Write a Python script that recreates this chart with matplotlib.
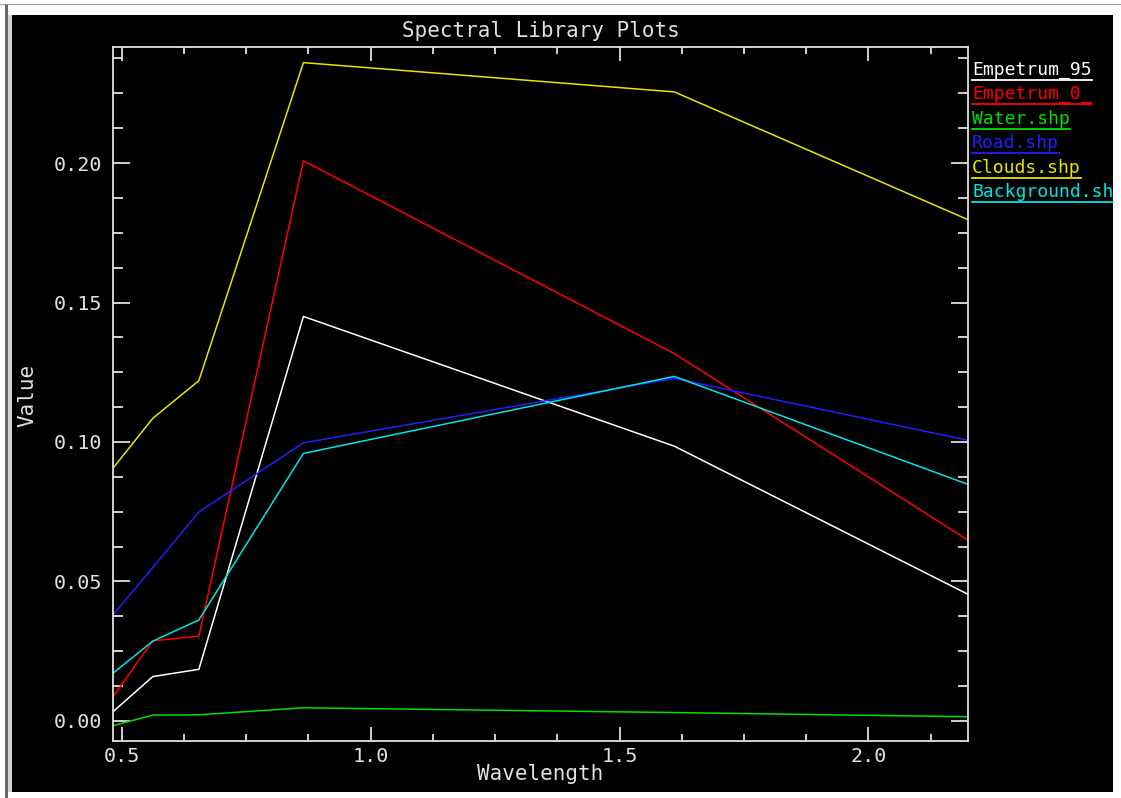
import matplotlib
matplotlib.use("Agg")
import matplotlib.pyplot as plt
from matplotlib.patches import Rectangle
from matplotlib.lines import Line2D
from matplotlib.ticker import MultipleLocator, FormatStrFormatter

plt.rcParams["font.family"] = "DejaVu Sans Mono"

# Landsat 8 OLI band centres (micrometres)
wavelength = [0.4825, 0.5625, 0.655, 0.865, 1.61, 2.2]

names = ["Empetrum_95", "Empetrum_0_", "Water.shp", "Road.shp", "Clouds.shp", "Background.sh"]
colors = ["#ffffff", "#ff0000", "#00e000", "#2020ff", "#e6e600", "#00e6e6"]

empetrum_95 = [0.0033, 0.0159, 0.0185, 0.1450, 0.0985, 0.0454]
empetrum_0 = [0.0087, 0.0287, 0.0304, 0.2008, 0.1317, 0.0648]
water = [-0.0017, 0.0021, 0.0022, 0.0047, 0.0030, 0.0015]
road = [0.0380, 0.0550, 0.0749, 0.0997, 0.1228, 0.1006]
clouds = [0.0906, 0.1085, 0.1220, 0.2360, 0.2255, 0.1797]
background = [0.0171, 0.0286, 0.0362, 0.0959, 0.1235, 0.0848]

series = [empetrum_95, empetrum_0, water, road, clouds, background]

W, H = 1121, 798
fig = plt.figure(figsize=(W / 100, H / 100), dpi=100, facecolor="white")

# window frame of the screenshot
frame = [
    ((0, 1 - 5 / H), 1, 1.5 / H, "#9a9a9a"),
    ((5 / W, 0), 3 / W, 1 - 5 / H, "#6a6a6a"),
    ((8 / W, 6 / H), 4 / W, 1 - 21 / H, "#d4d4cc"),
    ((12 / W, 6 / H), 1101 / W, 777 / H, "black"),
]
for xy, w, h, c in frame:
    fig.patches.append(Rectangle(xy, w, h, transform=fig.transFigure,
                                 facecolor=c, edgecolor="none", zorder=-10))

fg = "#e0e0e0"
fs = 14.5
ax = fig.add_axes([113 / W, 1 - 741 / H, 855 / W, 694 / H])
ax.set_facecolor("black")

for vals, c in zip(series, colors):
    ax.plot(wavelength, vals, color=c, lw=1.1)

ax.set_xlim(0.4825, 2.2)
ax.set_ylim(-0.0072, 0.2416)
ax.xaxis.set_major_locator(MultipleLocator(0.5))
ax.xaxis.set_minor_locator(MultipleLocator(0.125))
ax.yaxis.set_major_locator(MultipleLocator(0.05))
ax.yaxis.set_minor_locator(MultipleLocator(0.0125))
ax.xaxis.set_major_formatter(FormatStrFormatter("%.1f"))
ax.yaxis.set_major_formatter(FormatStrFormatter("%.2f"))

for s in ax.spines.values():
    s.set_color(fg)
    s.set_linewidth(1.3)

ax.tick_params(axis="both", which="both", direction="in", colors=fg, width=1.3,
               top=True, right=True, labelsize=fs)
ax.tick_params(axis="x", which="major", length=10, pad=4)
ax.tick_params(axis="x", which="minor", length=5)
ax.tick_params(axis="y", which="major", length=12, pad=8)
ax.tick_params(axis="y", which="minor", length=7)

ax.set_xlabel("Wavelength", color=fg, fontsize=15)
ax.xaxis.set_label_coords((540 - 113) / 855, (741 - 764) / 694)
ax.set_ylabel("Value", color=fg, fontsize=15)
ax.yaxis.set_label_coords((27 - 113) / 855, (741 - 395) / 694)
ax.yaxis.label.set_va("center")
ax.set_title("Spectral Library Plots", color=fg, fontsize=15, pad=7)

# legend: coloured, underlined labels at the right
renderer = fig.canvas.get_renderer()
y0 = 70
for i, (name, c) in enumerate(zip(names, colors)):
    yp = y0 + i * 24.4
    t = fig.text(972 / W, 1 - yp / H, name, color=c, fontsize=13,
                 ha="left", va="center", zorder=5)
    bb = t.get_window_extent(renderer)
    uy = 1 - (yp + 10) / H
    fig.add_artist(Line2D([972 / W, min(bb.x1, 1113) / W], [uy, uy], color=c, lw=1.3, zorder=5))

fig.savefig("out.png", dpi=100, facecolor="white")
